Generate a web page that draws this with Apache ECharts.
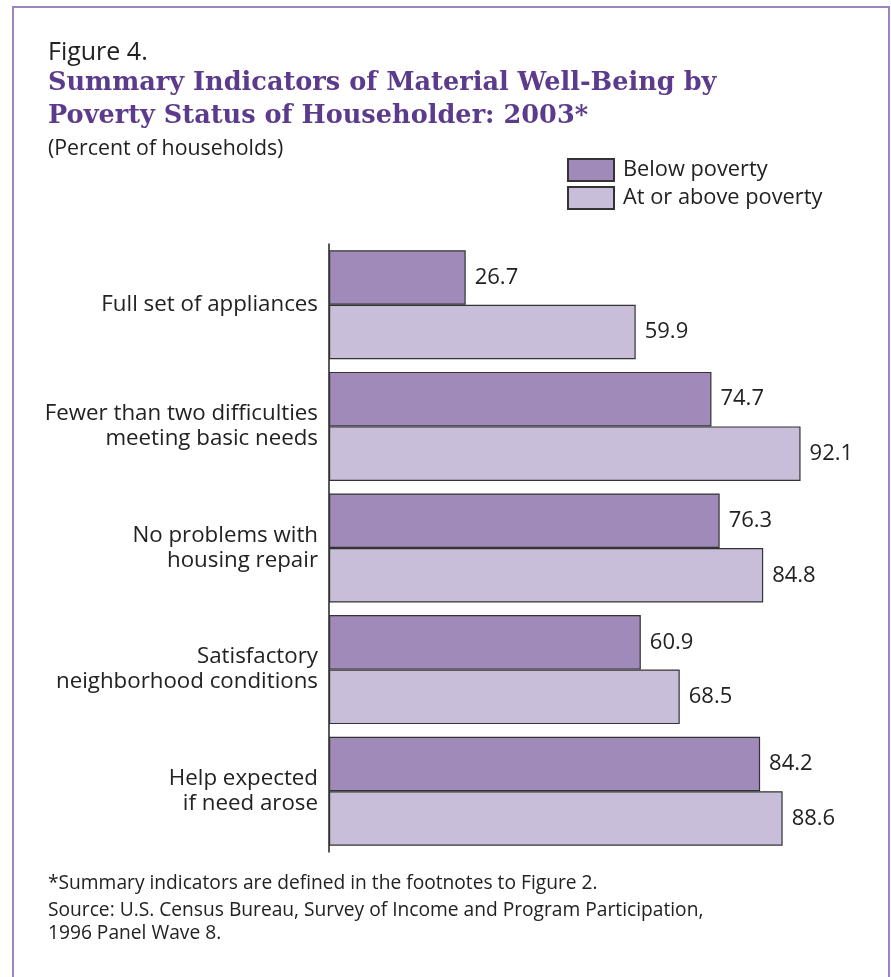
<!DOCTYPE html>
<html><head><meta charset="utf-8">
<script src="https://cdn.jsdelivr.net/npm/echarts@6/dist/echarts.min.js"></script>
<style>html,body{margin:0;padding:0;background:#fff}#c{width:891px;height:977px}</style>
</head><body><div id="c"></div>
<script>
const categories = ['Full set of appliances', 'Fewer than two difficulties\nmeeting basic needs', 'No problems with\nhousing repair', 'Satisfactory\nneighborhood conditions', 'Help expected\nif need arose'];
const belowPoverty = [26.7, 74.7, 76.3, 60.9, 84.2];
const atOrAbovePoverty = [59.9, 92.1, 84.8, 68.5, 88.6];
const seriesNames = ['Below poverty', 'At or above poverty'];
const titleLines = ['Summary Indicators of Material Well-Being by', 'Poverty Status of Householder: 2003*'];
const footnotes = ['*Summary indicators are defined in the footnotes to Figure 2.', 'Source: U.S. Census Bureau, Survey of Income and Program Participation,', '1996 Panel Wave 8.'];

const SANS = '"Open Sans", "Noto Sans", sans-serif';
const chart = echarts.init(document.getElementById('c'), null, {renderer: 'canvas'});
const labelStyle = {show: true, position: 'right', distance: 9, fontSize: 22, color: '#222', fontFamily: SANS, formatter: p => p.value.toFixed(1)};

chart.setOption({
  backgroundColor: '#fff',
  animation: false,
  grid: {left: 329, top: 244, width: 512, height: 608, containLabel: false},
  xAxis: {type: 'value', min: 0, max: 100, show: false},
  yAxis: {
    type: 'category', data: categories, inverse: true,
    axisLine: {show: true, lineStyle: {color: '#222', width: 1.5}},
    axisTick: {show: false},
    axisLabel: {margin: 11, fontSize: 22.3, color: '#222', fontFamily: SANS, lineHeight: 25, align: 'right', padding: [0, 0, 5, 0]}
  },
  legend: {
    orient: 'vertical', left: 567, top: 158, padding: 0, itemGap: 4,
    itemWidth: 46, itemHeight: 22, icon: 'rect',
    textStyle: {fontSize: 21.8, color: '#222', fontFamily: SANS, padding: [0, 0, 0, 4]},
    data: seriesNames
  },
  series: [
    {name: seriesNames[0], type: 'bar', data: belowPoverty, barWidth: 54.5, barGap: '0%',
     itemStyle: {color: '#a08ab9', borderColor: '#333', borderWidth: 1.2}, label: labelStyle},
    {name: seriesNames[1], type: 'bar', data: atOrAbovePoverty, barWidth: 54.5, barGap: '0%',
     itemStyle: {color: '#c8bed9', borderColor: '#333', borderWidth: 1.2}, label: labelStyle}
  ],
  graphic: [
    {type: 'rect', shape: {x: 13, y: 7, width: 876, height: 1000}, style: {fill: 'none', stroke: '#9b84c0', lineWidth: 2}, silent: true},
    {type: 'text', left: 48, top: 40, style: {text: 'Figure 4.', fontSize: 25, fill: '#222', fontFamily: SANS}},
    {type: 'text', left: 48, top: 70, style: {text: titleLines[0], fontSize: 25.6, fontWeight: 'bold', fill: '#5c3b8d', fontFamily: '"DejaVu Serif", serif'}},
    {type: 'text', left: 48, top: 103, style: {text: titleLines[1], fontSize: 25.6, fontWeight: 'bold', fill: '#5c3b8d', fontFamily: '"DejaVu Serif", serif'}},
    {type: 'text', left: 48, top: 138, style: {text: '(Percent of households)', fontSize: 21.3, fill: '#222', fontFamily: SANS}},
    {type: 'text', left: 48, top: 874, style: {text: footnotes[0], fontSize: 19.2, fill: '#222', fontFamily: SANS}},
    {type: 'text', left: 48, top: 901, style: {text: footnotes[1], fontSize: 19.2, fill: '#222', fontFamily: SANS}},
    {type: 'text', left: 48, top: 924, style: {text: footnotes[2], fontSize: 19.2, fill: '#222', fontFamily: SANS}}
  ]
});
</script></body></html>
